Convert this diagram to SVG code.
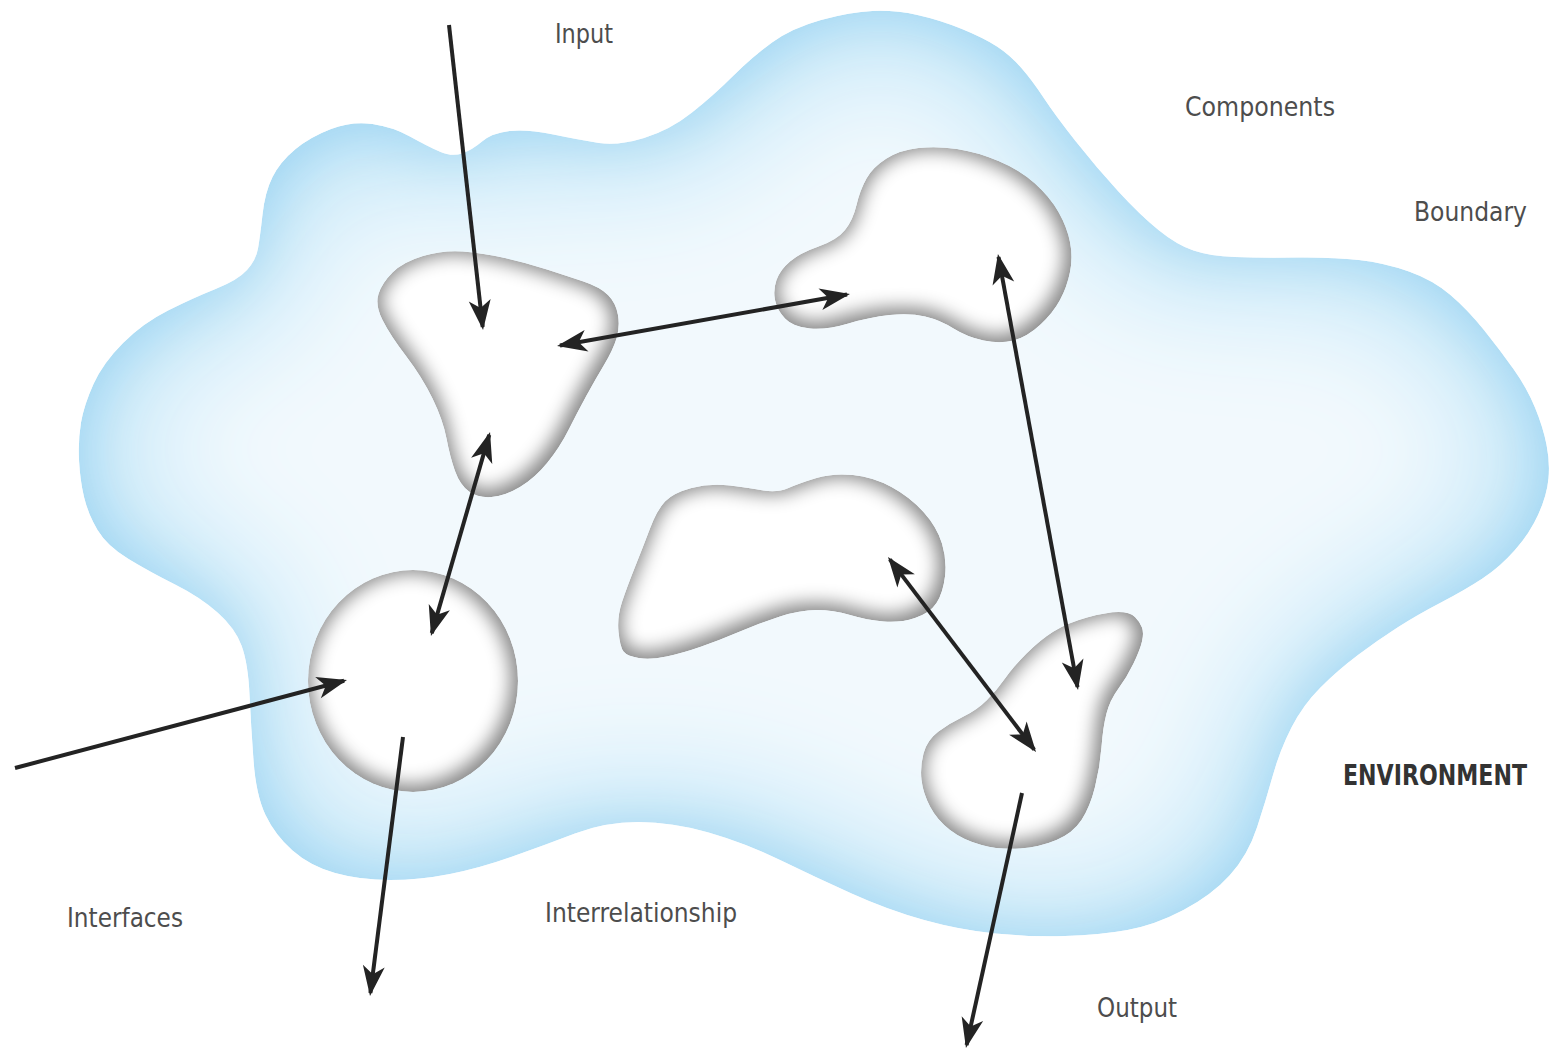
<svg xmlns="http://www.w3.org/2000/svg" width="1551" height="1052" viewBox="0 0 1551 1052">
<style>
.lbl{font-family:"Liberation Sans Narrow","DejaVu Sans Condensed","Liberation Sans",sans-serif;font-size:27px;fill:#4d4d4d}
.env{font-family:"Liberation Sans Narrow","DejaVu Sans Condensed","Liberation Sans",sans-serif;font-size:28px;font-weight:bold;fill:#333}
.comp{fill:#fff;filter:url(#compf)}
.arr{fill:none;stroke:#232323;stroke-width:4;stroke-linecap:butt}
.one{marker-end:url(#ah)}
.two{marker-start:url(#ah);marker-end:url(#ah)}
</style>
<defs>
<filter id="envf" x="-5%" y="-5%" width="110%" height="110%" color-interpolation-filters="sRGB">
<feFlood flood-color="#9bd4f2" result="b"/>
<feComposite in="b" in2="SourceAlpha" operator="in" result="blue"/>
<feMorphology in="SourceAlpha" operator="erode" radius="12" result="er1"/>
<feGaussianBlur in="er1" stdDeviation="30" result="bl1"/>
<feFlood flood-color="#c4e7f8" result="mc"/>
<feComposite in="mc" in2="bl1" operator="in" result="mid"/>
<feMorphology in="SourceAlpha" operator="erode" radius="40" result="er"/>
<feGaussianBlur in="er" stdDeviation="60" result="bl"/>
<feFlood flood-color="#f2f9fd" result="w"/>
<feComposite in="w" in2="bl" operator="in" result="light"/>
<feMerge result="m"><feMergeNode in="blue"/><feMergeNode in="mid"/><feMergeNode in="light"/></feMerge>
<feComposite in="m" in2="SourceAlpha" operator="in"/>
</filter>
<filter id="compf" x="-10%" y="-10%" width="120%" height="120%" color-interpolation-filters="sRGB">
<feFlood flood-color="#8a8a8a" result="g"/>
<feComposite in="g" in2="SourceAlpha" operator="in" result="gray"/>
<feMorphology in="SourceAlpha" operator="erode" radius="5" result="er"/>
<feGaussianBlur in="er" stdDeviation="9" result="bl"/>
<feOffset in="bl" dx="-2" dy="-2" result="off"/>
<feFlood flood-color="#ffffff" result="w"/>
<feComposite in="w" in2="off" operator="in" result="white"/>
<feMerge result="m"><feMergeNode in="gray"/><feMergeNode in="white"/></feMerge>
<feComposite in="m" in2="SourceAlpha" operator="in"/>
</filter>
<marker id="ah" viewBox="-30 -12 36 24" refX="0" refY="0" markerWidth="36" markerHeight="24" markerUnits="userSpaceOnUse" orient="auto-start-reverse">
<path d="M3,0 L-27,-11 L-19,0 L-27,11 Z" fill="#232323"/>
</marker>
</defs>

<g id="boundary">
<path filter="url(#envf)" fill="#9bd4f2" d="M258,248.5 Q260,237 262.5,214.5 Q265,192 272.5,177 Q280,162 295,149.5 Q310,137 331,129 Q352,121 372.5,124 Q393,127 410,136.5 Q427,146 439.5,151.5 Q452,157 462,153.5 Q472,150 482,141.5 Q492,133 509.5,131 Q527,129 553.5,134.5 Q580,140 599,143 Q618,146 644,138 Q670,130 692,112.5 Q714,95 733,76 Q752,57 772,42.5 Q792,28 821,20 Q850,12 872.5,11 Q895,10 917.5,15 Q940,20 962,29 Q984,38 997,46.5 Q1010,55 1021,67.5 Q1032,80 1043.5,97.5 Q1055,115 1075.5,141 Q1096,167 1118,191 Q1140,215 1158.5,230 Q1177,245 1193.5,250.5 Q1210,256 1235,257 Q1260,258 1296.5,257.5 Q1333,257 1359,260 Q1385,263 1409,271.5 Q1433,280 1450.5,295 Q1468,310 1484,330 Q1500,350 1513.5,369 Q1527,388 1535,407.5 Q1543,427 1546.5,444.5 Q1550,462 1548.5,478.5 Q1547,495 1538.5,514 Q1530,533 1515,550 Q1500,567 1482.5,578.5 Q1465,590 1441,602.5 Q1417,615 1397.5,627.5 Q1378,640 1358,655 Q1338,670 1320.5,687.5 Q1303,705 1291.5,727.5 Q1280,750 1273,775 Q1266,800 1257,827.5 Q1248,855 1230,875 Q1212,895 1183.5,910 Q1155,925 1127.5,930 Q1100,935 1065,936 Q1030,937 995,933.5 Q960,930 924,920 Q888,910 851.5,893.5 Q815,877 780,860 Q745,843 708.5,832.5 Q672,822 638.5,822 Q605,822 575,833.5 Q545,845 512.5,856.5 Q480,868 450,874 Q420,880 390,880 Q360,880 335,873 Q310,866 292.5,850.5 Q275,835 265.5,815 Q256,795 253.5,760.5 Q251,726 249.5,694.5 Q248,663 241.5,645.5 Q235,628 217.5,612.5 Q200,597 175,584.5 Q150,572 128.5,559 Q107,546 97.5,530 Q88,514 84,497 Q80,480 79,460 Q78,440 81,422.5 Q84,405 93.5,384 Q103,363 123,343 Q143,323 168,310.5 Q193,298 215.5,289 Q238,280 247,270 Q256,260 258,248.5 Z"/>
</g>

<g id="comp-a"><path class="comp" d="M382.5,320 Q375,305 378.5,294 Q382,283 392.5,272.5 Q403,262 423,256 Q443,250 463,251.5 Q483,253 505,258 Q527,263 547,269.5 Q567,276 583.5,281.5 Q600,287 608,295 Q616,303 618,315 Q620,327 616.5,338.5 Q613,350 604,365 Q595,380 586,396.5 Q577,413 568.5,430 Q560,447 547.5,462.5 Q535,478 520,487 Q505,496 491.5,497 Q478,498 469,491.5 Q460,485 455,471 Q450,457 446.5,438.5 Q443,420 432.5,398.5 Q422,377 406,356 Q390,335 382.5,320 Z"/></g>
<g id="comp-b"><path class="comp" d="M775,300 Q773,290 776.5,280 Q780,270 790,261.5 Q800,253 818.5,246.5 Q837,240 845,230 Q853,220 856.5,205 Q860,190 866.5,178.5 Q873,167 886.5,158.5 Q900,150 918.5,148 Q937,146 957,149 Q977,152 998.5,161 Q1020,170 1035,183.5 Q1050,197 1058.5,212 Q1067,227 1070,242 Q1073,257 1070,272 Q1067,287 1060,300 Q1053,313 1040,325 Q1027,337 1013.5,340.5 Q1000,344 983.5,340.5 Q967,337 953.5,328.5 Q940,320 925,316.5 Q910,313 890,315 Q870,317 848.5,323.5 Q827,330 810,328.5 Q793,327 785,318.5 Q777,310 775,300 Z"/></g>
<g id="comp-c"><path class="comp" d="M623.5,651.5 Q620,647 618.5,632 Q617,617 622,602 Q627,587 635,567 Q643,547 650,528.5 Q657,510 665,501.5 Q673,493 691.5,488 Q710,483 730,485.5 Q750,488 763.5,490.5 Q777,493 788.5,488 Q800,483 816.5,478 Q833,473 853,475 Q873,477 891.5,487 Q910,497 923.5,512 Q937,527 942,543.5 Q947,560 945,576.5 Q943,593 936.5,603 Q930,613 915,618 Q900,623 883.5,621.5 Q867,620 850,615 Q833,610 816.5,610 Q800,610 780,616.5 Q760,623 740,631.5 Q720,640 701.5,646.5 Q683,653 666.5,656.5 Q650,660 638.5,658 Q627,656 623.5,651.5 Z"/></g>
<g id="comp-d"><ellipse class="comp" cx="413" cy="681" rx="105" ry="111"/></g>
<g id="comp-e"><path class="comp" d="M1142,627.5 Q1140,622 1135,617 Q1130,612 1118.5,612 Q1107,612 1087,617.5 Q1067,623 1053.5,631.5 Q1040,640 1026.5,653.5 Q1013,667 1005,678.5 Q997,690 987,700 Q977,710 963.5,716.5 Q950,723 938.5,731.5 Q927,740 923.5,753.5 Q920,767 921.5,780 Q923,793 930,806.5 Q937,820 950,830 Q963,840 981.5,845 Q1000,850 1020,848.5 Q1040,847 1056.5,840 Q1073,833 1081.5,820 Q1090,807 1095,787 Q1100,767 1101.5,747 Q1103,727 1106.5,713.5 Q1110,700 1118.5,688.5 Q1127,677 1133.5,663.5 Q1140,650 1142,641.5 Q1144,633 1142,627.5 Z"/></g>

<g id="connectors">
<line class="arr one" x1="449" y1="25" x2="482.7" y2="327"/>
<line class="arr two" x1="560" y1="345.5" x2="847" y2="294.5"/>
<line class="arr two" x1="489.2" y1="434.9" x2="431.8" y2="633.1"/>
<line class="arr one" x1="15" y1="768" x2="344.1" y2="680.8"/>
<line class="arr one" x1="403" y1="737" x2="370.4" y2="993"/>
<line class="arr two" x1="998.5" y1="257" x2="1077.5" y2="687"/>
<line class="arr two" x1="889.8" y1="559.4" x2="1034.2" y2="749.6"/>
<line class="arr one" x1="1022" y1="793" x2="966.6" y2="1045"/>
</g>

<g id="labels">
<text class="lbl" x="555" y="43" textLength="58" lengthAdjust="spacingAndGlyphs">Input</text>
<text class="lbl" x="1185" y="116" textLength="150" lengthAdjust="spacingAndGlyphs">Components</text>
<text class="lbl" x="1414" y="221" textLength="113" lengthAdjust="spacingAndGlyphs">Boundary</text>
<text class="env" x="1343" y="785" textLength="184" lengthAdjust="spacingAndGlyphs">ENVIRONMENT</text>
<text class="lbl" x="67" y="927" textLength="116" lengthAdjust="spacingAndGlyphs">Interfaces</text>
<text class="lbl" x="545" y="922" textLength="192" lengthAdjust="spacingAndGlyphs">Interrelationship</text>
<text class="lbl" x="1097" y="1017" textLength="80" lengthAdjust="spacingAndGlyphs">Output</text>
</g>
</svg>
